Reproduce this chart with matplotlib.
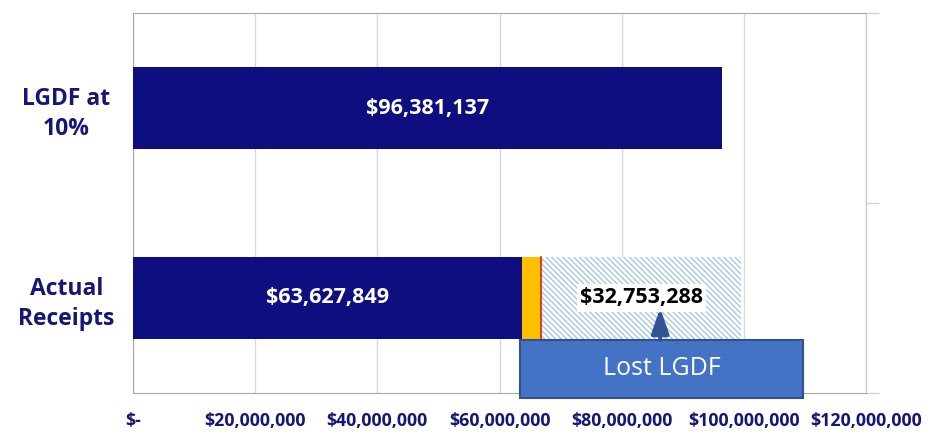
import matplotlib.pyplot as plt
from matplotlib.patches import Rectangle

plt.rcParams['font.family'] = ['Open Sans', 'DejaVu Sans']
plt.rcParams['hatch.linewidth'] = 0.9

# data
categories = ['Actual\nReceipts', 'LGDF at\n10%']
lgdf_full = 96381137
actual_receipts = 63627849
other_amount = 3200000       # orange sliver
lost_lgdf = 32753288

navy = '#0E0E80'
label_navy = '#16167A'

fig = plt.figure(figsize=(9.39, 4.34), dpi=100)
ax = fig.add_axes([0.1416, 0.0945, 0.7807, 0.8755])

h = 0.43
ax.barh(1, lgdf_full, height=h, color=navy, zorder=3)
ax.barh(0, actual_receipts, height=h, color=navy, zorder=3)
ax.barh(0, other_amount, left=actual_receipts, height=h, color='#FFC000', zorder=3)
x_red = actual_receipts + other_amount
ax.plot([x_red, x_red], [-h / 2, h / 2], color='#E02010', lw=1.2, zorder=4)
ax.barh(0, lost_lgdf, left=x_red, height=h, color='white',
        edgecolor='#9DC3E6', hatch='\\\\\\\\\\\\', linewidth=0, zorder=3)

# value labels
ax.text(lgdf_full / 2, 1, '${:,.0f}'.format(lgdf_full), color='white',
        fontsize=15.5, fontweight='bold', ha='center', va='center', zorder=5)
ax.text(actual_receipts / 2, 0, '${:,.0f}'.format(actual_receipts), color='white',
        fontsize=15.5, fontweight='bold', ha='center', va='center', zorder=5)
ax.text(x_red + lost_lgdf / 2, 0, '${:,.0f}'.format(lost_lgdf), color='black',
        fontsize=15.5, fontweight='bold', ha='center', va='center', zorder=5,
        bbox=dict(boxstyle='square,pad=0.15', fc='white', ec='none'))

# Lost LGDF callout
box_x0, box_x1 = 63.3e6, 109.7e6
box_y0, box_y1 = -0.526, -0.221
ax.add_patch(Rectangle((box_x0, box_y0), box_x1 - box_x0, box_y1 - box_y0,
                       facecolor='#4472C4', edgecolor='#2F528F', lw=1.5,
                       zorder=6, clip_on=False))
ax.text((box_x0 + box_x1) / 2, (box_y0 + box_y1) / 2, 'Lost LGDF', color='white',
        fontsize=18, ha='center', va='center', zorder=7, clip_on=False)
ax.annotate('', xy=(86.3e6, -0.053), xytext=(86.3e6, box_y1),
            arrowprops=dict(arrowstyle='-|>,head_width=0.35,head_length=1.0',
                            color='#2F5597', lw=3, mutation_scale=15,
                            shrinkA=0, shrinkB=0),
            zorder=8)

# axes styling
ax.set_xlim(0, 120e6)
ax.set_ylim(-0.5, 1.5)
xt = [0, 20e6, 40e6, 60e6, 80e6, 100e6, 120e6]
ax.set_xticks(xt)
ax.set_xticklabels(['$-'] + ['${:,.0f}'.format(v) for v in xt[1:]],
                   fontweight='bold', fontsize=12.8, color=label_navy)
ax.tick_params(axis='x', length=0, pad=14)
ax.set_yticks([0, 1])
ax.set_yticklabels(categories, fontweight='bold', fontsize=16.5, color=label_navy,
                   ha='center', multialignment='center', linespacing=1.35)
ax.tick_params(axis='y', which='major', length=0, pad=48)
ax.set_yticks([-0.5, 0.5, 1.5], minor=True)
ax.tick_params(axis='y', which='minor', left=False, right=True, length=9,
               color='#D0D0D0', width=1)

ax.grid(axis='x', color='#D9D9D9', lw=1, zorder=0)
for s in ['left', 'bottom', 'top']:
    ax.spines[s].set_color('#A6A6A6')
ax.spines['right'].set_color('#C8C8C8')

fig.savefig('out.png', dpi=100)
